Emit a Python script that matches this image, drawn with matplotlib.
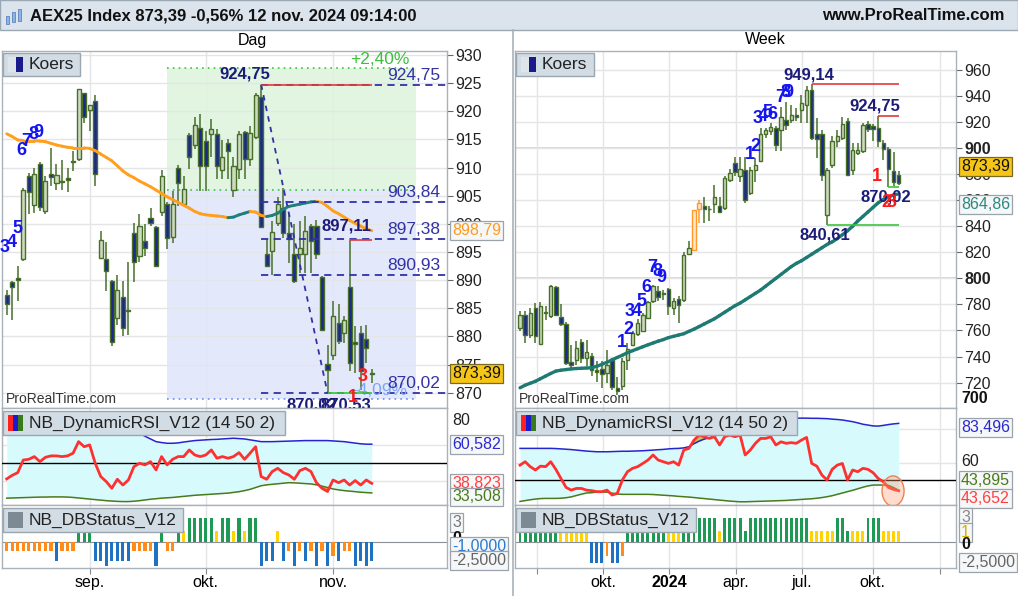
import numpy as np
import matplotlib
matplotlib.use("Agg")
import matplotlib.pyplot as plt
from matplotlib.patches import Rectangle, Ellipse
from matplotlib.lines import Line2D
from matplotlib.collections import LineCollection

plt.rcParams['font.family'] = ['Liberation Sans', 'DejaVu Sans']

W, H = 1018, 596

# ---------------- daily ("Dag") ----------------
d_open = [887.4, 889.6, 890.4, 893.7, 908.5, 903.3, 910.6, 902.2, 908.9, 907.2,
          907.7, 908.1, 911.2, 911.5, 923.2, 920.2, 921.8, 894.0, 893.7, 889.8,
          883.3, 887.0, 884.5, 898.4, 894.3, 896.9, 901.1, 899.5, 902.1, 903.6,
          897.7, 910.0, 903.5, 915.7, 914.0, 917.1, 914.7, 915.9, 915.9, 909.5,
          914.4, 906.1, 909.8, 916.3, 911.6, 915.5, 922.6, 894.7, 895.2, 900.1,
          902.9, 898.3, 894.6, 894.6, 894.6, 899.6, 899.6, 890.6, 875.2, 876.8,
          882.4, 880.6, 888.7, 879.1, 880.6, 879.6, 873.6]
d_high = [888.2, 889.8, 892.6, 906.4, 909.1, 910.0, 910.9, 908.5, 913.5, 910.6,
          911.3, 910.0, 912.9, 924.0, 923.2, 921.1, 922.9, 898.7, 896.8, 890.1,
          891.0, 889.8, 893.2, 900.2, 901.7, 899.9, 902.9, 899.7, 909.6, 903.9,
          905.8, 910.4, 908.5, 916.2, 918.9, 919.5, 916.5, 918.6, 916.8, 914.9,
          915.0, 911.8, 916.5, 916.5, 917.4, 923.3, 924.75, 897.4, 900.5, 904.7,
          906.4, 901.7, 899.9, 900.5, 901.4, 899.9, 900.7, 890.7, 878.4, 886.3,
          885.7, 883.6, 897.11, 881.8, 881.8, 882.1, 874.2]
d_low = [883.9, 883.0, 886.3, 893.4, 901.7, 902.0, 902.3, 901.7, 906.7, 906.1,
         906.0, 905.7, 909.4, 911.2, 918.0, 916.5, 906.7, 893.7, 888.0, 878.3,
         882.1, 880.0, 880.3, 889.6, 893.2, 894.3, 899.6, 892.3, 901.4, 895.6,
         896.6, 903.2, 903.2, 909.7, 913.3, 905.8, 905.8, 911.8, 907.9, 907.9,
         907.9, 904.7, 907.9, 907.9, 910.3, 915.0, 899.3, 892.4, 891.0, 899.6,
         897.5, 893.1, 889.5, 891.3, 891.3, 891.2, 893.8, 880.9, 870.02, 875.9,
         878.6, 878.9, 873.8, 873.5, 870.53, 875.3, 871.7]
d_close = [885.7, 888.8, 890.1, 906.1, 905.7, 908.8, 903.0, 907.6, 908.4, 908.7,
           907.4, 907.8, 910.9, 923.9, 918.9, 921.1, 908.8, 897.1, 891.7, 879.1,
           888.3, 881.5, 884.6, 893.2, 899.7, 895.7, 900.2, 892.5, 908.5, 897.5,
           903.6, 907.3, 906.2, 911.9, 917.5, 910.3, 910.2, 916.9, 910.3, 911.9,
           913.0, 910.3, 915.9, 911.6, 916.2, 922.9, 899.5, 892.5, 898.5, 903.5,
           898.4, 897.4, 889.8, 895.8, 898.7, 896.9, 894.6, 881.2, 874.1, 883.6,
           879.2, 883.0, 875.3, 878.6, 873.8, 878.0, 873.39]
d_ma = [916.0, 915.5, 914.9, 914.8, 914.8, 914.8, 914.7, 914.6, 914.3, 914.0,
        913.8, 913.6, 913.5, 913.5, 913.5, 913.4, 913.0, 912.4, 911.8, 911.2,
        910.3, 909.4, 908.7, 908.2, 907.6, 907.1, 906.6, 906.0, 905.4, 904.8,
        904.3, 903.8, 903.3, 902.8, 902.2, 901.8, 901.6, 901.5, 901.4, 901.3,
        901.1, 901.2, 901.6, 901.9, 902.2, 902.1, 901.5, 901.3, 901.5, 901.9,
        902.6, 903.1, 903.3, 903.5, 903.7, 903.9, 904.0, 903.8, 903.1, 902.3,
        901.8, 901.2, 900.6, 900.1, 899.6, 899.1, 898.79]
d_rsi = [41.3, 43.3, 44.8, 51.8, 52.2, 53.7, 50.9, 53.3, 54.1, 54.1,
         53.7, 54.1, 55.6, 62.0, 59.2, 60.2, 50.0, 42.6, 39.8, 36.1,
         41.1, 37.9, 40.7, 48.1, 50.0, 49.1, 50.9, 46.3, 53.7, 49.1,
         52.2, 53.7, 53.7, 57.4, 54.6, 53.7, 54.6, 57.4, 52.8, 53.7,
         52.8, 53.7, 55.9, 52.2, 55.6, 59.2, 42.6, 41.1, 45.4, 47.2,
         44.8, 43.5, 41.1, 45.9, 47.2, 45.4, 39.2, 36.1, 34.3, 40.7,
         39.2, 40.7, 37.9, 40.4, 37.9, 40.7, 38.823]
d_rsi_up = [72.0, 72.2, 72.3, 72.3, 72.2, 72.0, 71.9, 71.8, 71.8, 71.9,
            72.0, 72.1, 72.2, 72.3, 72.2, 72.0, 71.8, 71.7, 71.6, 71.5,
            71.3, 70.6, 69.5, 68.0, 66.7, 65.0, 63.5, 62.0, 61.5, 61.1,
            61.1, 61.3, 61.8, 62.2, 62.6, 62.8, 63.0, 63.2, 63.3, 63.5,
            63.7, 63.9, 63.7, 63.5, 63.0, 62.5, 62.0, 62.0, 62.0, 62.1,
            62.2, 62.3, 62.4, 62.5, 62.6, 62.6, 62.6, 62.6, 62.6, 62.4,
            62.2, 62.0, 61.6, 61.2, 60.8, 60.6, 60.582]
d_rsi_lo = [30.6, 30.7, 30.8, 30.9, 31.0, 31.1, 31.2, 31.2, 31.3, 31.3,
            31.3, 31.2, 31.0, 30.7, 30.4, 30.1, 29.8, 29.5, 29.2, 29.0,
            28.8, 28.7, 28.7, 28.9, 29.2, 29.6, 30.0, 30.3, 30.6, 30.8,
            31.0, 31.3, 31.6, 31.9, 32.2, 32.4, 32.6, 32.8, 33.0, 33.2,
            33.4, 33.8, 34.2, 34.8, 35.5, 36.5, 37.5, 38.0, 38.3, 38.6,
            38.9, 39.2, 39.1, 38.9, 38.7, 38.5, 38.0, 37.3, 36.5, 35.7,
            35.2, 34.8, 34.5, 34.2, 33.9, 33.7, 33.508]
d_status = [-1.2, -1.2, -1.2, -1.2, -1.2, -1.2, -1.2, -1.2, -1.2, -2.5,
            -1.2, -1.2, -1.2, 1.5, 1.5, 1.5, -2.5, -2.5, -3.2, -2.5,
            -2.5, -2.5, -2.5, -1.2, -1.2, -1.2, -1.2, -3.2, 1.5, -1.2,
            -1.2, 1.5, 1.5, 3.2, 3.2, 3.2, 3.2, 3.2, 1.5, 3.2,
            3.2, 1.5, 3.2, 1.5, 3.2, 3.2, -3.2, -2.5, -2.5, 1.5,
            -2.5, -1.2, -3.2, -1.2, -2.5, -1.2, -3.2, -1.2, -3.2, -1.8,
            -2.5, -1.2, -1.2, -3.2, -2.5, -3.2, -2.5]
d_kind = ("OOOOOOOOOB" "OOOGGGBBBB" "BBBOOOOBGO" "OGYGGGGGYG"
          "GYGYGGBBBY" "BOBOBOBOBO" "BOOBBBB")

d_months = ['sep.', 'okt.', 'nov.']
d_month_idx = [15, 36, 59]

d_peak_idx, d_peak = 46, 924.75
d_low_idx, d_low_val = 58, 870.02
d_levels = [924.75, 903.84, 897.38, 890.93, 870.02]
d_zone_start, d_zone_end, d_zone_base = 29, 74, 906.0
d_zone_up, d_zone_down = 2.40, 4.09
d_pct_label_idx = 67.5
d_td = [('3', -0.3, 895.8, 'b'), ('4', 0.9, 896.7, 'b'), ('5', 1.9, 899.2, 'b'),
        ('6', 2.7, 913.1, 'b'), ('7', 3.6, 914.7, 'b'), ('8', 4.8, 915.9, 'b'),
        ('9', 5.7, 916.3, 'b'), ('1', 62.5, 869.2, 'r'), ('3', 64.3, 872.9, 'r')]

# ---------------- weekly ("Week") ----------------
w_open = [761.8, 772.1, 756.7, 777.2, 749.8, 773.4, 770.8, 793.3, 770.3, 765.2,
          735.5, 737.6, 750.8, 738.8, 740.6, 729.4, 730.4, 727.4, 737.6, 715.8,
          717.1, 737.0, 749.1, 757.5, 759.3, 769.5, 782.3, 790.0, 788.2, 791.7,
          777.2, 784.1, 783.6, 818.8, 821.9, 853.1, 855.7, 853.1, 857.2, 855.7,
          853.9, 875.6, 888.4, 878.7, 882.8, 865.4, 882.8, 890.4, 911.0, 913.3,
          915.3, 914.0, 921.7, 921.7, 925.0, 929.4, 933.2, 944.7, 910.7, 910.7,
          848.8, 887.2, 905.1, 907.6, 920.4, 883.3, 896.1, 897.4, 918.4, 917.3,
          915.3, 903.8, 899.6, 882.4, 879.6]
w_high = [774.6, 774.6, 777.2, 781.0, 781.5, 778.5, 795.1, 794.3, 780.0, 766.2,
          749.1, 751.6, 753.4, 752.9, 742.7, 736.3, 736.3, 745.2, 738.8, 724.3,
          738.8, 750.3, 759.3, 768.8, 773.4, 782.3, 795.1, 794.3, 791.2, 792.5,
          784.9, 786.1, 819.9, 828.3, 852.6, 860.3, 862.8, 855.2, 871.8, 862.8,
          878.7, 883.8, 893.0, 893.5, 893.5, 885.8, 892.2, 915.2, 915.3, 919.1,
          916.6, 931.9, 935.2, 933.2, 930.6, 940.9, 947.3, 949.14, 922.9, 914.0,
          884.6, 908.9, 914.0, 924.2, 923.0, 903.8, 903.8, 919.1, 920.4, 918.4,
          924.75, 906.4, 900.7, 897.11, 882.1]
w_low = [759.3, 750.3, 754.2, 750.3, 749.1, 768.2, 769.5, 770.8, 763.1, 733.7,
         729.9, 733.7, 735.0, 733.0, 724.8, 720.2, 715.8, 719.7, 714.6, 710.7,
         714.6, 729.4, 747.8, 756.0, 758.5, 768.8, 781.0, 782.3, 783.6, 772.1,
         772.1, 765.7, 781.5, 818.1, 821.4, 842.4, 842.4, 843.7, 850.1, 850.1,
         852.6, 874.3, 878.2, 874.3, 857.7, 864.1, 873.6, 889.7, 907.6, 910.2,
         897.4, 897.4, 914.0, 919.1, 920.4, 919.1, 919.1, 906.4, 892.3, 874.4,
         840.61, 884.6, 901.2, 906.4, 878.2, 879.5, 894.8, 896.1, 912.2, 905.1,
         901.2, 891.0, 870.02, 870.53, 871.7]
w_close = [772.1, 756.7, 773.4, 755.5, 779.0, 773.9, 794.3, 772.1, 765.2, 735.0,
           733.5, 746.5, 738.8, 743.2, 729.9, 727.9, 726.8, 733.7, 716.6, 713.3,
           736.3, 745.7, 758.0, 765.7, 772.1, 781.5, 793.8, 785.6, 788.3, 778.9,
           782.3, 779.7, 818.1, 823.2, 852.1, 858.2, 853.1, 853.0, 862.3, 851.3,
           876.9, 881.2, 882.0, 883.8, 860.3, 883.3, 887.1, 910.9, 913.8, 915.8,
           902.5, 924.2, 917.9, 925.5, 923.5, 934.5, 944.7, 907.6, 907.1, 879.5,
           883.3, 905.1, 908.9, 918.4, 879.5, 898.7, 898.7, 917.9, 914.8, 914.8,
           905.1, 899.5, 883.6, 873.8, 873.39]
w_ma = [716.0, 718.0, 719.5, 721.0, 723.0, 725.0, 727.0, 728.8, 729.5, 730.0,
        730.5, 730.8, 731.0, 731.2, 731.4, 732.5, 734.0, 735.6, 737.5, 739.3,
        741.0, 743.0, 744.5, 746.0, 747.5, 749.0, 750.4, 751.8, 753.0, 754.5,
        755.5, 756.5, 757.5, 759.3, 761.0, 763.0, 765.0, 767.0, 769.0, 771.5,
        774.0, 776.5, 779.0, 781.0, 783.5, 786.0, 788.5, 791.0, 794.0, 797.0,
        800.0, 803.0, 806.0, 809.0, 811.5, 813.5, 816.0, 818.5, 821.0, 823.5,
        826.0, 828.0, 830.5, 833.5, 836.5, 840.0, 844.0, 847.5, 851.0, 854.5,
        858.0, 860.5, 862.5, 864.0, 864.86]
w_rsi = [58.8, 60.8, 57.9, 55.9, 58.2, 57.9, 60.8, 56.3, 50.9, 45.6,
         44.0, 45.0, 45.0, 44.0, 43.7, 43.1, 43.1, 44.0, 41.1, 42.1,
         50.0, 54.9, 56.9, 57.9, 59.8, 61.8, 64.8, 61.8, 60.8, 59.8,
         60.8, 58.8, 67.7, 68.7, 73.6, 76.6, 75.6, 74.6, 75.6, 70.7,
         75.6, 76.6, 75.6, 76.6, 64.8, 67.7, 71.7, 74.6, 74.6, 75.6,
         70.7, 72.6, 71.7, 72.1, 71.7, 73.6, 75.2, 59.8, 58.2, 52.9,
         50.0, 56.3, 58.8, 59.8, 50.0, 55.9, 54.9, 56.9, 56.3, 54.3,
         50.9, 49.0, 45.6, 44.4, 43.652]
w_rsi_up = [68.7, 68.7, 68.7, 68.7, 68.7, 68.7, 68.7, 68.6, 68.4, 68.2,
            68.0, 67.7, 67.4, 67.1, 66.9, 66.7, 66.7, 66.7, 66.8, 66.9,
            67.0, 67.0, 67.1, 67.2, 67.3, 67.5, 67.7, 67.9, 68.1, 68.4,
            68.6, 68.7, 69.0, 69.7, 71.5, 73.0, 74.2, 75.0, 76.0, 77.0,
            78.0, 79.5, 81.0, 82.5, 83.5, 84.5, 85.5, 86.0, 86.3, 86.5,
            86.5, 86.5, 86.6, 86.6, 86.6, 86.6, 86.6, 86.5, 86.5, 86.4,
            86.3, 86.0, 85.8, 85.5, 85.0, 84.5, 83.8, 83.0, 82.5, 82.0,
            81.9, 82.3, 82.8, 83.2, 83.496]
w_rsi_lo = [37.3, 37.8, 38.3, 38.7, 39.0, 39.1, 39.1, 39.1, 39.2, 39.5,
            40.0, 40.8, 41.6, 42.3, 42.5, 42.8, 42.9, 42.8, 42.2, 41.7,
            41.5, 41.5, 41.5, 41.5, 41.5, 41.5, 41.4, 41.2, 41.0, 40.8,
            40.6, 40.3, 40.1, 39.9, 39.6, 39.3, 39.0, 38.7, 38.4, 38.1,
            37.8, 37.5, 37.3, 37.1, 37.1, 37.2, 37.3, 37.4, 37.5, 37.6,
            37.7, 37.8, 37.9, 38.1, 38.3, 38.5, 38.7, 38.9, 39.2, 39.6,
            40.1, 40.7, 41.5, 42.3, 43.1, 43.9, 44.8, 45.7, 46.5, 47.0,
            47.0, 47.0, 46.8, 45.5, 43.895]
w_status = [1.5, 1.5, 1.5, 1.5, 1.5, 1.5, 1.5, 1.5, 1.5, 1.5,
            1.5, 1.5, 1.5, 1.5, -2.7, -2.7, -2.7, -1.8, -2.7, -2.7,
            -1.8, 1.5, 1.5, 1.5, 1.5, 1.5, 1.5, 1.5, 1.5, 1.5,
            1.5, 1.5, 1.5, 1.5, 1.5, 3.2, 3.2, 3.2, 3.2, 1.5,
            3.2, 3.2, 3.2, 3.2, 1.5, 3.2, 3.2, 3.2, 3.2, 3.2,
            3.2, 3.2, 3.2, 3.2, 3.2, 3.2, 3.2, 1.5, 1.5, 1.5,
            1.5, 1.5, 3.2, 3.2, 1.5, 1.5, 1.5, 1.5, 3.2, 3.2,
            3.2, 1.5, 1.5, 1.5, 1.5]
w_kind = ("GGGGGGGG" "YYYYYY" "BBB" "O" "BB" "O" "GGGGGGGG" "YYY" "GGG"
          "GGGG" "Y" "GGGG" "G" "GGGGGGGGGGGG" "YYYYY" "GG" "G" "YYY" "GGG" "YYYY")
w_orange = [34, 35]

w_ticks = [3.3, 16.2, 29.1, 42.2, 55.1, 68.9, 82.0]
w_tick_labels = ['', 'okt.', '2024', 'apr.', 'jul.', 'okt.', '']

# (label, label index, price, start of line, colour, side)
w_marks = [('949,14', 56.5, 949.14, 57, 'r', 'above'),
           ('924,75', 69.3, 924.75, 70, 'r', 'above'),
           ('840,61', 59.6, 840.61, 60, 'g', 'below'),
           ('870,02', 71.5, 870.02, 72, 'g', 'below')]
w_td = [('1', 19.9, 750.6, 'b'), ('2', 21.1, 760.6, 'b'), ('3', 21.5, 774.4, 'b'),
        ('4', 22.9, 774.4, 'b'), ('5', 23.8, 782.0, 'b'), ('6', 24.6, 792.8, 'b'),
        ('7', 25.8, 808.0, 'b'), ('8', 26.8, 805.0, 'b'), ('9', 27.7, 800.5, 'b'),
        ('1', 44.9, 894.8, 'b'), ('2', 45.9, 901.0, 'b'), ('3', 46.5, 923.0, 'b'),
        ('4', 47.5, 924.0, 'b'), ('5', 48.4, 927.0, 'b'), ('6', 49.4, 925.5, 'b'),
        ('7', 50.8, 938.5, 'b'), ('8', 51.8, 943.0, 'b'), ('9', 52.5, 943.0, 'b'),
        ('1', 69.8, 878.0, 'r'), ('2', 71.6, 858.0, 'r'), ('3', 72.6, 858.0, 'r')]
w_alert = (72.9, 43.5)

# ---------------- style ----------------
GRID = '#e3e5e7'
SPINE = '#a9b1b9'
UP_FACE = '#cddbbd'
DOWN_FACE = '#1b2a88'
EDGE = '#476f2a'
NAVY = '#1c1c78'
LEVEL = '#3232a6'
STATUS_COL = {'G': '#1f9a55', 'Y': '#ffd400', 'O': '#ff8c1a', 'B': '#1f72c2'}
TD_COL = {'b': '#1414f0', 'r': '#ff1a1a'}
MARK_COL = {'r': '#e03a3a', 'g': '#3cc43c'}

fig = plt.figure(figsize=(W / 100, H / 100), dpi=100)
fig.patch.set_facecolor('white')


def add_ax(x0, y0, x1, y1):
    return fig.add_axes([x0 / W, 1 - y1 / H, (x1 - x0) / W, (y1 - y0) / H])


def fig_rect(x0, y0, x1, y1, **kw):
    fig.add_artist(Rectangle((x0 / W, 1 - y1 / H), (x1 - x0) / W, (y1 - y0) / H,
                             transform=fig.transFigure, **kw))


def style(ax):
    for s in ax.spines.values():
        s.set_color(SPINE)
        s.set_linewidth(1)
    ax.tick_params(axis='x', bottom=False, labelbottom=False)
    ax.yaxis.tick_right()
    ax.tick_params(axis='y', colors='#222', labelsize=11.5, length=4,
                   color='#666', pad=2)


def candles(ax, o, h, l, c, width, min_h, orange=()):
    o, h, l, c = map(np.asarray, (o, h, l, c))
    x = np.arange(len(o))
    edges = ['#ff9a2a' if i in orange else EDGE for i in x]
    faces = [('#fde6cc' if i in orange else UP_FACE) if c[i] >= o[i] else DOWN_FACE
             for i in x]
    ax.vlines(x, l, h, colors=edges, lw=1.1, zorder=4)
    ax.bar(x, np.maximum(np.abs(c - o), min_h), width, np.minimum(o, c),
           color=faces, edgecolor=edges, linewidth=1, zorder=5)


def ma_line(ax, ma, up_col, down_col, lw):
    ma = np.asarray(ma)
    pts = np.column_stack([np.arange(len(ma)), ma])
    segs = np.stack([pts[:-1], pts[1:]], axis=1)
    cols = [up_col if b > a else down_col for a, b in zip(ma[:-1], ma[1:])]
    ax.add_collection(LineCollection(segs, colors=cols, linewidths=lw, zorder=6,
                                     capstyle='round'))


def rsi_panel(ax, rsi, up, lo, ylim):
    rsi, up, lo = map(np.asarray, (rsi, up, lo))
    x = np.arange(len(rsi))
    ax.fill_between(x, lo, up, color='#d7fbfd', lw=0, zorder=1)
    ax.fill_between(x, rsi, up, where=rsi > up, interpolate=True, color='#c9c04a',
                    lw=0, zorder=2)
    ax.fill_between(x, rsi, lo, where=rsi < lo, interpolate=True, color='#f0a040',
                    lw=0, zorder=2)
    ax.plot(x, up, color='#2424d0', lw=1.1, zorder=3)
    ax.plot(x, lo, color='#4a7a1a', lw=1.1, zorder=3)
    ax.plot(x, rsi, color='#ff3030', lw=2, zorder=4)
    ax.axhline(50, color='black', lw=1, zorder=3)
    ax.set_ylim(ylim)
    ax.set_yticks([])


def status_panel(ax, vals, kinds):
    x = np.arange(len(vals))
    ax.bar(x, vals, 0.58, color=[STATUS_COL[k] for k in kinds], zorder=3)
    ax.axhline(0, color='#8a9096', lw=0.8, zorder=2)
    ax.set_ylim(-3.4, 4.9)
    ax.set_yticks([])


def vbox(ax, value, text, color, dy=0, fc='#f6f7f8', ec='#9aa3ab', box=True,
         bold=False):
    bb = dict(boxstyle='square,pad=0.12', fc=fc, ec=ec, lw=0.9) if box else None
    ax.annotate(text, xy=(1, value), xycoords=('axes fraction', 'data'),
                xytext=(5, dy), textcoords='offset pixels', va='center', ha='left',
                fontsize=11.5, color=color, annotation_clip=False, bbox=bb,
                fontweight='bold' if bold else 'normal', zorder=10)


def legend_box(x0, y0, x1, y1, text, icon):
    fig_rect(x0, y0, x1, y1, fc='#d2dce4', ec='#9aa6b0', lw=1, zorder=20)
    iw = 15 / len(icon)
    for k, col in enumerate(icon):
        fig_rect(x0 + 5 + k * iw, y0 + 4, x0 + 5 + (k + 1) * iw, y1 - 4,
                 fc=col, ec='none', zorder=21)
    fig.text((x0 + 26) / W, 1 - (y0 + y1) / 2 / H, text, fontsize=12.5,
             va='center', color='#222', zorder=22)


def vgrid(ax, ticks):
    for t in ticks:
        ax.axvline(t, color=GRID, lw=1, zorder=0)


def fmt(v):
    return f"{v:.2f}".replace('.', ',')


def date_axis(ax, ticks, labels):
    ax.set_xticks(ticks)
    ax.set_xticklabels(labels)
    ax.tick_params(axis='x', bottom=True, labelbottom=True, length=4,
                   labelsize=11.5, color='#888', pad=1)


# ---------------- header ----------------
fig_rect(0, 0, W, 30, fc='#dbe4ec', ec='#9aa8b4', lw=1, zorder=1)
for k, (hh, yy) in enumerate([(8, 16), (10, 12), (12, 9)]):
    fig_rect(6 + 6 * k, yy, 9 + 6 * k, yy + hh, fc='#8fb4e0', ec='#5b86c0', lw=0.6,
             zorder=2)
fig.text(30 / W, 1 - 16 / H, 'AEX25 Index 873,39 -0,56% 12 nov. 2024 09:14:00',
         fontsize=12, fontweight='bold', va='center', color='#111')
fig.text(822 / W, 1 - 16 / H, 'www.ProRealTime.com', fontsize=12,
         fontweight='bold', va='center', color='#111')
fig.text(252 / W, 1 - 40 / H, 'Dag', fontsize=11.5, ha='center', va='center')
fig.text(765 / W, 1 - 40 / H, 'Week', fontsize=11.5, ha='center', va='center')
fig.add_artist(Line2D([512.5 / W] * 2, [0, 1 - 30 / H], color=SPINE, lw=1.2))

# ---------------- daily column ----------------
d_xlim = (-0.85, 79.6)

axp = add_ax(2, 51, 447, 408)
style(axp)
axp.set_xlim(d_xlim)
axp.set_ylim(867.3, 930.7)
axp.set_yticks(np.arange(870, 931, 5))
axp.grid(axis='y', color=GRID, lw=1, zorder=0)
vgrid(axp, d_month_idx)

z_top = d_zone_base * (1 + d_zone_up / 100)
z_bot = d_zone_base * (1 - d_zone_down / 100)
axp.add_patch(Rectangle((d_zone_start, d_zone_base), d_zone_end - d_zone_start,
                        z_top - d_zone_base, fc='#def4de', ec='none', zorder=1,
                        alpha=0.9))
axp.add_patch(Rectangle((d_zone_start, z_bot), d_zone_end - d_zone_start,
                        d_zone_base - z_bot, fc='#e0e6fb', ec='none', zorder=1,
                        alpha=0.9))
axp.hlines([z_top, d_zone_base], d_zone_start, d_zone_end, colors='#3cc43c',
           linestyles=(0, (1, 2.5)), lw=1.2, zorder=2)
axp.hlines(z_bot, d_zone_start, d_zone_end, colors='#6a8ef0',
           linestyles=(0, (1, 2.5)), lw=1.2, zorder=2)
axp.text(d_pct_label_idx, z_top + 0.2, f"+{d_zone_up:.2f}%".replace('.', ','),
         color='#3cbf3c', fontsize=12.5, ha='center', va='bottom')
axp.text(d_pct_label_idx, z_bot + 0.1, f"-{d_zone_down:.2f}%".replace('.', ','),
         color='#7fa6f5', fontsize=12.5, ha='center', va='bottom', zorder=7)

candles(axp, d_open, d_high, d_low, d_close, 0.74, 0.15)
ma_line(axp, d_ma, '#1f7f78', '#ff9f1c', 2.1)

axp.hlines(d_levels, d_peak_idx, d_xlim[1], colors=LEVEL,
           linestyles=(0, (4, 3)), lw=1.3, zorder=6)
for lv in d_levels:
    axp.text(78.4, lv + 0.35, fmt(lv), color=LEVEL, fontsize=12.5, ha='right',
             va='bottom', zorder=7)
axp.plot([d_peak_idx, d_low_idx], [d_peak, d_low_val], color=LEVEL,
         ls=(0, (3, 3)), lw=1.3, zorder=6)
axp.hlines(d_peak, d_peak_idx, 66, colors='#e03a3a', lw=1.2, zorder=7)
axp.hlines(d_high[62], 62, 66, colors='#e03a3a', lw=1.2, zorder=7)
axp.hlines(d_low_val, d_low_idx, 66, colors='#3cc43c', lw=1.2, zorder=7)
axp.text(d_peak_idx - 3, d_peak + 0.6, fmt(d_peak), color=NAVY, fontsize=12,
         fontweight='bold', ha='center', va='bottom', zorder=8)
axp.text(66, d_high[62] + 1.2, fmt(d_high[62]), color=NAVY, fontsize=12,
         fontweight='bold', ha='right', va='bottom', zorder=8)
axp.text(d_low_idx - 2.8, 867.9, fmt(d_low_val), color=NAVY, fontsize=12,
         fontweight='bold', ha='center', va='center', zorder=8, clip_on=True)
axp.text(d_low_idx + 3.4, 867.9, fmt(d_low[64]), color=NAVY, fontsize=12,
         fontweight='bold', ha='center', va='center', zorder=8, clip_on=True)
for t, xi, yv, c in d_td:
    axp.text(xi, yv, t, color=TD_COL[c], fontsize=13, fontweight='bold',
             ha='center', va='center', zorder=9)
axp.text(0.008, 0.006, 'ProRealTime.com', transform=axp.transAxes, fontsize=10,
         color='#333', va='bottom', zorder=9)
vbox(axp, d_ma[-1], fmt(d_ma[-1]), '#ff9a20')
vbox(axp, d_close[-1], fmt(d_close[-1]), '#111', fc='#f5c518', ec='#7a6a20')

axr = add_ax(2, 408, 447, 505)
style(axr)
axr.set_xlim(d_xlim)
vgrid(axr, d_month_idx)
for g in (40, 60):
    axr.axhline(g, color=GRID, lw=1, zorder=0)
rsi_panel(axr, d_rsi, d_rsi_up, d_rsi_lo, (26.8, 80.7))
vbox(axr, 80, '80', '#222', dy=-11, box=False)
vbox(axr, d_rsi_up[-1], f"{d_rsi_up[-1]:.3f}".replace('.', ','), '#2a2ad0')
vbox(axr, d_rsi[-1], f"{d_rsi[-1]:.3f}".replace('.', ','), '#ff4040')
vbox(axr, d_rsi_lo[-1], f"{d_rsi_lo[-1]:.3f}".replace('.', ','), '#4a7a1a', dy=-4)

axs = add_ax(2, 505, 447, 568)
style(axs)
axs.set_xlim(d_xlim)
vgrid(axs, d_month_idx)
status_panel(axs, d_status, d_kind)
date_axis(axs, d_month_idx, d_months)
vbox(axs, 3, '3', '#777', dy=-3)
vbox(axs, 0, '0', '#111', dy=4, box=False, bold=True)
vbox(axs, -1, '-1,0000', '#2a7ad0', dy=3)
vbox(axs, -2.5, '-2,5000', '#666', dy=1)

legend_box(3, 53, 80, 76, 'Koers', ['#dfe4e8', '#1a1a8a'])
legend_box(3, 411, 285, 435, 'NB_DynamicRSI_V12 (14 50 2)',
           ['#ff2020', '#1a1ad0', '#3a7a1a'])
legend_box(3, 508, 183, 532, 'NB_DBStatus_V12', ['#7d8a94'])

# ---------------- weekly column ----------------
w_xlim = (-0.98, 85.2)

bxp = add_ax(515, 51, 956, 408)
style(bxp)
bxp.set_xlim(w_xlim)
bxp.set_ylim(700.5, 974.5)
bxp.set_yticks(np.arange(720, 961, 20))
bxp.grid(axis='y', color=GRID, lw=1, zorder=0)
for g in (800, 900):
    bxp.axhline(g, color='#cdd1d5', lw=1.2, zorder=0)
for lbl in bxp.get_yticklabels():
    if lbl.get_text() in ('800', '900'):
        lbl.set_fontweight('bold')
vgrid(bxp, w_ticks)
candles(bxp, w_open, w_high, w_low, w_close, 0.66, 0.6, orange=w_orange)
ma_line(bxp, w_ma, '#1e7a72', '#1e7a72', 2.4)
for t, xi, yv, x_start, c, side in w_marks:
    bxp.hlines(yv, x_start, len(w_close) - 1, colors=MARK_COL[c], lw=1.2, zorder=7)
    bxp.text(xi, yv + (1.5 if side == 'above' else -1.5), t, color=NAVY,
             fontsize=12, fontweight='bold', ha='center',
             va='bottom' if side == 'above' else 'top', zorder=8)
for t, xi, yv, c in w_td:
    bxp.text(xi, yv, t, color=TD_COL[c], fontsize=13, fontweight='bold',
             ha='center', va='center', zorder=9)
bxp.text(0.008, 0.006, 'ProRealTime.com', transform=bxp.transAxes, fontsize=10,
         color='#333', va='bottom', zorder=9)
vbox(bxp, 700.5, '700', '#111', dy=10, box=False, bold=True)
vbox(bxp, w_close[-1], fmt(w_close[-1]), '#111', dy=16, fc='#f5c518', ec='#7a6a20')
vbox(bxp, w_ma[-1], fmt(w_ma[-1]), '#2a8a80', dy=-11)

bxr = add_ax(515, 408, 956, 505)
style(bxr)
bxr.set_xlim(w_xlim)
vgrid(bxr, w_ticks)
for g in (60, 80):
    bxr.axhline(g, color=GRID, lw=1, zorder=0)
rsi_panel(bxr, w_rsi, w_rsi_up, w_rsi_lo, (35.2, 92.6))
bxr.add_patch(Ellipse(w_alert, 4.3, 17.8, fc=(1, 0.62, 0.45, 0.35), ec='#f08050',
                      lw=1, zorder=5))
vbox(bxr, 60, '60', '#222', dy=2, box=False)
vbox(bxr, w_rsi_up[-1], f"{w_rsi_up[-1]:.3f}".replace('.', ','), '#2a2ad0', dy=-4)
vbox(bxr, w_rsi_lo[-1], f"{w_rsi_lo[-1]:.3f}".replace('.', ','), '#4a7a1a', dy=10)
vbox(bxr, w_rsi[-1], f"{w_rsi[-1]:.3f}".replace('.', ','), '#ff4040', dy=-8)

bxs = add_ax(515, 505, 956, 568)
style(bxs)
bxs.set_xlim(w_xlim)
vgrid(bxs, w_ticks)
status_panel(bxs, w_status, w_kind)
date_axis(bxs, w_ticks, w_tick_labels)
for lbl in bxs.get_xticklabels():
    if lbl.get_text() == '2024':
        lbl.set_fontweight('bold')
vbox(bxs, 3, '3', '#888', dy=2)
vbox(bxs, 1, '1', '#d4b000', dy=2)
vbox(bxs, 0, '0', '#111', dy=-2, box=False, bold=True)
vbox(bxs, -2.5, '-2,5000', '#666', dy=-1)

legend_box(516, 53, 594, 76, 'Koers', ['#dfe4e8', '#1a1a8a'])
legend_box(516, 411, 797, 435, 'NB_DynamicRSI_V12 (14 50 2)',
           ['#ff2020', '#1a1ad0', '#3a7a1a'])
legend_box(516, 508, 696, 532, 'NB_DBStatus_V12', ['#7d8a94'])

fig.savefig('out.png', dpi=100, facecolor='white')
